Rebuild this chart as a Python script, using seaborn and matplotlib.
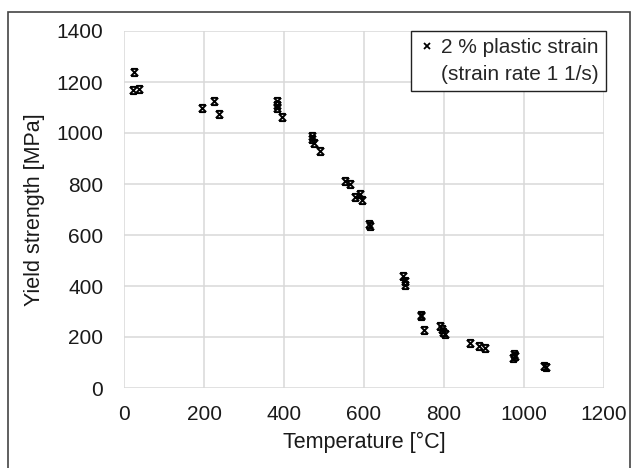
import numpy as np
import pandas as pd
import matplotlib
matplotlib.use("Agg")
import matplotlib.pyplot as plt
from matplotlib.path import Path
from matplotlib.patches import Rectangle
from matplotlib.lines import Line2D
import seaborn as sns

temperature = [26, 23, 38, 195, 224, 237, 382, 382, 383, 396, 470, 471, 474, 491,
               552, 566, 577, 591, 595, 612, 616, 697, 702, 703, 742, 742, 749,
               791, 794, 797, 802, 866, 887, 903, 976, 973, 977, 1051, 1055]
strength = [1240, 1168, 1173, 1100, 1126, 1075, 1126, 1097, 1108, 1061, 990, 975, 962, 930,
            810, 801, 748, 759, 737, 643, 635, 440, 418, 403, 288, 283, 228,
            244, 231, 220, 211, 176, 166, 157, 133, 117, 124, 85, 81]
series_label = ["2 % plastic strain", "(strain rate 1 1/s)"]
x_ticks = [0, 200, 400, 600, 800, 1000, 1200]
y_ticks = [0, 200, 400, 600, 800, 1000, 1200, 1400]

df = pd.DataFrame({"Temperature": temperature, "Strength": strength})

sns.set_theme(style="white")
plt.rcParams["font.family"] = ["Liberation Sans", "DejaVu Sans"]

fig = plt.figure(figsize=(6.35, 4.68), dpi=100)
ax = fig.add_axes([124/635, 1 - 388/468, 480/635, 357/468])

# X marker with short top and bottom bars
verts = [(-1, -1), (1, 1), (-1, 1), (1, -1), (-0.8, 1), (0.8, 1), (-0.8, -1), (0.8, -1)]
codes = [Path.MOVETO, Path.LINETO, Path.MOVETO, Path.LINETO,
         Path.MOVETO, Path.LINETO, Path.MOVETO, Path.LINETO]
xmark = Path(verts, codes)

sns.scatterplot(data=df, x="Temperature", y="Strength", ax=ax, marker=xmark,
                s=27, color="black", edgecolor="black", linewidth=1.4,
                legend=False, zorder=3)

ax.set_xlim(0, 1200)
ax.set_ylim(0, 1400)
ax.set_xticks(x_ticks)
ax.set_yticks(y_ticks)
ax.tick_params(axis="both", labelsize=15, length=0, colors="#1a1a1a")
ax.tick_params(axis="x", pad=12)
ax.tick_params(axis="y", pad=15)
ax.grid(True, color="#d9d9d9", linewidth=1.1)
for s in ax.spines.values():
    s.set_visible(False)
ax.set_xlabel("Temperature [°C]", fontsize=15.5, color="#1a1a1a", labelpad=6)
ax.set_ylabel("Yield strength [MPa]", fontsize=15.5, color="#1a1a1a", labelpad=8)

h1 = Line2D([], [], linestyle="none", marker="x", color="black",
            markersize=4, markeredgewidth=1.3)
h2 = Line2D([], [], linestyle="none", marker=None)
leg = ax.legend([h1, h2], series_label, loc="upper right", fontsize=15, frameon=True,
                fancybox=False, borderaxespad=0.0, handletextpad=0.2,
                handlelength=0.9, borderpad=0.35, labelspacing=0.35,
                bbox_to_anchor=(1.004, 1.0))
leg.get_frame().set_edgecolor("#222222")
leg.get_frame().set_linewidth(1.0)
leg.get_frame().set_alpha(1)

fig.patches.append(Rectangle((8/635, -0.01), 622/635, 1.01 - 12/468, transform=fig.transFigure,
                             fill=False, edgecolor="#444444", linewidth=1.2))

fig.savefig("out.png", dpi=100)
